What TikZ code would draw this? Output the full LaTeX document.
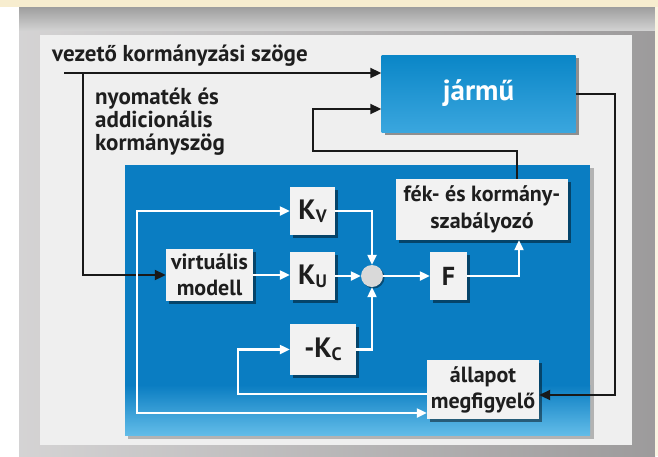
\documentclass[tikz,border=0pt]{standalone}
\usepackage{fontspec}
\setmainfont{PT Sans}
\usetikzlibrary{arrows.meta,shadows,calc}
\definecolor{beige}{HTML}{F7EDCF}
\definecolor{framegray}{HTML}{B8B6B7}
\definecolor{panelgray}{HTML}{EFEFEF}
\definecolor{bluepanel}{HTML}{0A7DC2}
\definecolor{bluelight}{HTML}{62BCE8}
\definecolor{jtop}{HTML}{0A86C7}
\definecolor{jbot}{HTML}{3AA6DE}
\definecolor{boxfill}{HTML}{F2F2F2}
\definecolor{txt}{HTML}{1E1E1E}
\begin{document}
\begin{tikzpicture}[x=1pt,y=-1pt,
  wbox/.style={draw=none,fill=boxfill,text=txt,font=\bfseries\fontsize{22}{26}\selectfont,
     align=center,inner sep=0pt,
     drop shadow={shadow xshift=2.5pt,shadow yshift=-2.5pt,opacity=0.45,fill=black}},
  bl/.style={draw=black!90,line width=2pt,-{Triangle[length=11pt,width=10pt]}},
  wl/.style={draw=white,line width=2.2pt,-{Triangle[length=10pt,width=9pt]}},
  lbl/.style={text=txt,font=\bfseries\fontsize{23}{23}\selectfont,inner sep=0pt}]
\useasboundingbox (0,0) rectangle (658,456);
% backgrounds
\fill[white] (0,0) rectangle (658,456);
\fill[beige] (0,0) rectangle (658,7);
\shade[left color=framegray!60!white, right color=framegray!85!black] (19,7) rectangle (655,456);
\shade[top color=black!38, bottom color=black!18] (19,7) rectangle (655,30);
\fill[beige!60!white] (655,7) rectangle (658,456);
\fill[panelgray] (40,35) rectangle (632,445);
% blue panel
\fill[black,opacity=0.25] (128,168) rectangle (594,439);
\fill[bluepanel] (125,165) rectangle (590,435);
\shade[top color=bluepanel, bottom color=bluelight] (125,385) rectangle (590,435);
% nodes
\node[draw=none,inner sep=0pt,minimum width=194pt,minimum height=77pt,
      top color=jtop,bottom color=jbot,
      drop shadow={shadow xshift=3pt,shadow yshift=-3pt,opacity=0.4,fill=black},
      text=white,font=\bfseries\fontsize{29}{29}\selectfont] (jarmu) at (478.5,93.5) {jármű};
\node[wbox,minimum width=45pt,minimum height=48pt] (kv) at (312.5,211)
  {{\fontsize{28}{28}\selectfont K}\raisebox{-3pt}{\fontsize{18}{18}\selectfont V}};
\node[wbox,minimum width=45pt,minimum height=48pt] (ku) at (312.5,276)
  {{\fontsize{28}{28}\selectfont K}\raisebox{-3pt}{\fontsize{18}{18}\selectfont U}};
\node[wbox,minimum width=87pt,minimum height=52pt] (vm) at (209.5,275) {virtuális\\modell};
\node[wbox,minimum width=66pt,minimum height=51pt] (kc) at (323,349.5)
  {{\fontsize{28}{28}\selectfont -K}\raisebox{-3pt}{\fontsize{18}{18}\selectfont C}};
\node[circle,fill=black!15,minimum size=22pt,inner sep=0pt,
      drop shadow={shadow xshift=1.5pt,shadow yshift=-1.5pt,opacity=0.4,fill=black}] (sum) at (372,276) {};
\node[wbox,minimum width=37pt,minimum height=48pt,font=\bfseries\fontsize{26}{26}\selectfont] (f) at (448.5,276) {F};
\node[wbox,minimum width=172pt,minimum height=61pt,font=\bfseries\fontsize{22}{27}\selectfont] (fek) at (482,209.5) {fék- és kormány-\\szabályozó};
\node[wbox,minimum width=112pt,minimum height=59pt] (all) at (483,389.5) {állapot\\megfigyelő};
% texts
\node[lbl,anchor=west] (t1) at (52,56) {vezető kormányzási szöge};
\node[lbl,anchor=north west,align=left] (t2) at (95,88) {nyomaték és\\addicionális\\kormányszög};
% coordinates
\coordinate (s) at (64,73);
\coordinate (j) at (83,73);
\coordinate (c1) at (313,151);
\coordinate (c2) at (615,0);
\coordinate (lp) at (137,0);
\coordinate (kl) at (238,0);
\coordinate (fx) at (519,0);
\coordinate (ft) at ([xshift=35pt]fek.north);
\coordinate (jw1) at ([yshift=20.5pt]jarmu.west);
\coordinate (jw2) at ([yshift=-15.5pt]jarmu.west);
\coordinate (alr) at ([yshift=-5.5pt]all.east);
\coordinate (all1) at ([yshift=-4.5pt]all.west);
\coordinate (all2) at ([yshift=-23.5pt]all.west);
% black connectors
\draw[bl] (s) -- (jw1);
\draw[bl] (j) |- (vm.west);
\draw[bl] (ft) -- (ft |- c1) -- (c1) |- (jw2);
\draw[bl] (jarmu.east) -| (c2 |- alr) -- (alr);
% white connectors
\draw[wl] (vm.east) -- (vm.east -| ku.west);
\draw[wl] (kv.east) -| (sum.north);
\draw[wl] (ku.east) -- (sum.west);
\draw[wl] (kc.east) -| (sum.south);
\draw[wl] (sum.east) -- (f.west);
\draw[wl] (f.east) -| (fx |- fek.south);
\draw[wl] (all1) -| (kl |- kc.west) -- (kc.west);
\draw[wl,{Triangle[length=10pt,width=9pt]}-{Triangle[length=10pt,width=9pt]}] (kv.west) -- (kv.west -| lp) -- (lp |- all2) -- (all2);
\end{tikzpicture}
\end{document}
